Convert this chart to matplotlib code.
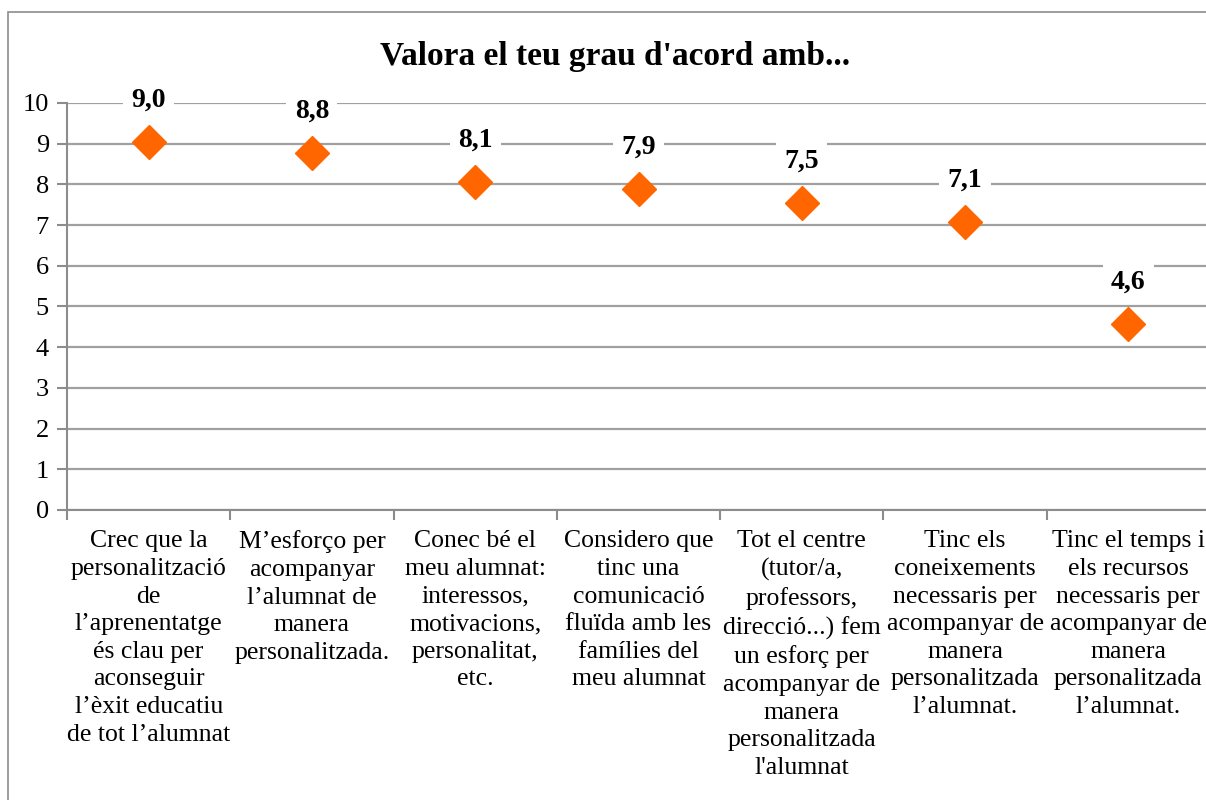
import matplotlib
matplotlib.use("Agg")
import matplotlib.pyplot as plt
from matplotlib.patches import Rectangle

categories = [
    "Crec que la\npersonalització\nde\nl’aprenentatge\nés clau per\naconseguir\nl’èxit educatiu\nde tot l’alumnat",
    "M’esforço per\nacompanyar\nl’alumnat de\nmanera\npersonalitzada.",
    "Conec bé el\nmeu alumnat:\ninteressos,\nmotivacions,\npersonalitat,\netc.",
    "Considero que\ntinc una\ncomunicació\nfluïda amb les\nfamílies del\nmeu alumnat",
    "Tot el centre\n(tutor/a,\nprofessors,\ndirecció...) fem\nun esforç per\nacompanyar de\nmanera\npersonalitzada\nl'alumnat",
    "Tinc els\nconeixements\nnecessaris per\nacompanyar de\nmanera\npersonalitzada\nl’alumnat.",
    "Tinc el temps i\nels recursos\nnecessaris per\nacompanyar de\nmanera\npersonalitzada\nl’alumnat.",
]
values = [9.04, 8.77, 8.06, 7.89, 7.54, 7.08, 4.57]
yticks = list(range(0, 11))
title = "Valora el teu grau d'acord amb..."

FONT = "Liberation Serif"
plt.rcParams["font.family"] = FONT

W, H = 1206, 800
fig = plt.figure(figsize=(W / 100, H / 100), dpi=100)
fig.patch.set_facecolor("white")

# outer chart frame
fig.add_artist(Rectangle((8 / W, -0.1), 1.2, 1 - 12 / H + 0.1, transform=fig.transFigure,
                         fill=False, edgecolor="#8c8c8c", linewidth=1.2))

left, right = 67, 1210
bottom, top = 510, 103
ax = fig.add_axes([left / W, 1 - bottom / H, (right - left) / W, (bottom - top) / H])
ax.set_xlim(-0.5, len(categories) - 0.5)
ax.set_ylim(0, 10)

for s in ["top", "right"]:
    ax.spines[s].set_visible(False)
ax.spines["left"].set_color("#8c8c8c")
ax.spines["bottom"].set_color("#8c8c8c")
ax.spines["left"].set_linewidth(1.5)
ax.spines["bottom"].set_linewidth(1.5)

ax.set_yticks(yticks)
ax.set_yticklabels([str(t) for t in yticks], fontsize=19)
ax.yaxis.grid(True, color="#a0a0a0", linewidth=1.6)
ax.set_axisbelow(True)
ax.tick_params(axis="y", length=7, width=1.5, color="#8c8c8c", pad=6, labelcolor="black")

xs = list(range(len(categories)))
ax.set_xticks([x - 0.5 for x in xs] + [len(categories) - 0.5])
ax.set_xticklabels([])
ax.tick_params(axis="x", length=7, width=1.5, color="#8c8c8c")
for x, lab in zip(xs, categories):
    ax.text(x, -0.5, lab, ha="center", va="top", fontsize=18.5, linespacing=1.33,
            transform=ax.transData, clip_on=False)

ax.plot(xs, values, linestyle="none", marker="D", markersize=17, color="#FF6600",
        markeredgecolor="#FF6600", zorder=3, clip_on=False)

for x, v in zip(xs, values):
    ax.annotate(f"{v:.1f}".replace(".", ","), (x, v), xytext=(0, 30), textcoords="offset points",
                ha="center", va="center", fontsize=20, fontweight="bold",
                bbox=dict(boxstyle="square,pad=0.3", facecolor="white", edgecolor="none"),
                zorder=4, annotation_clip=False)

fig.text(615 / W, 1 - 57 / H, title, ha="center", va="center", fontsize=24, fontweight="bold")

fig.savefig("out.png", dpi=100)
